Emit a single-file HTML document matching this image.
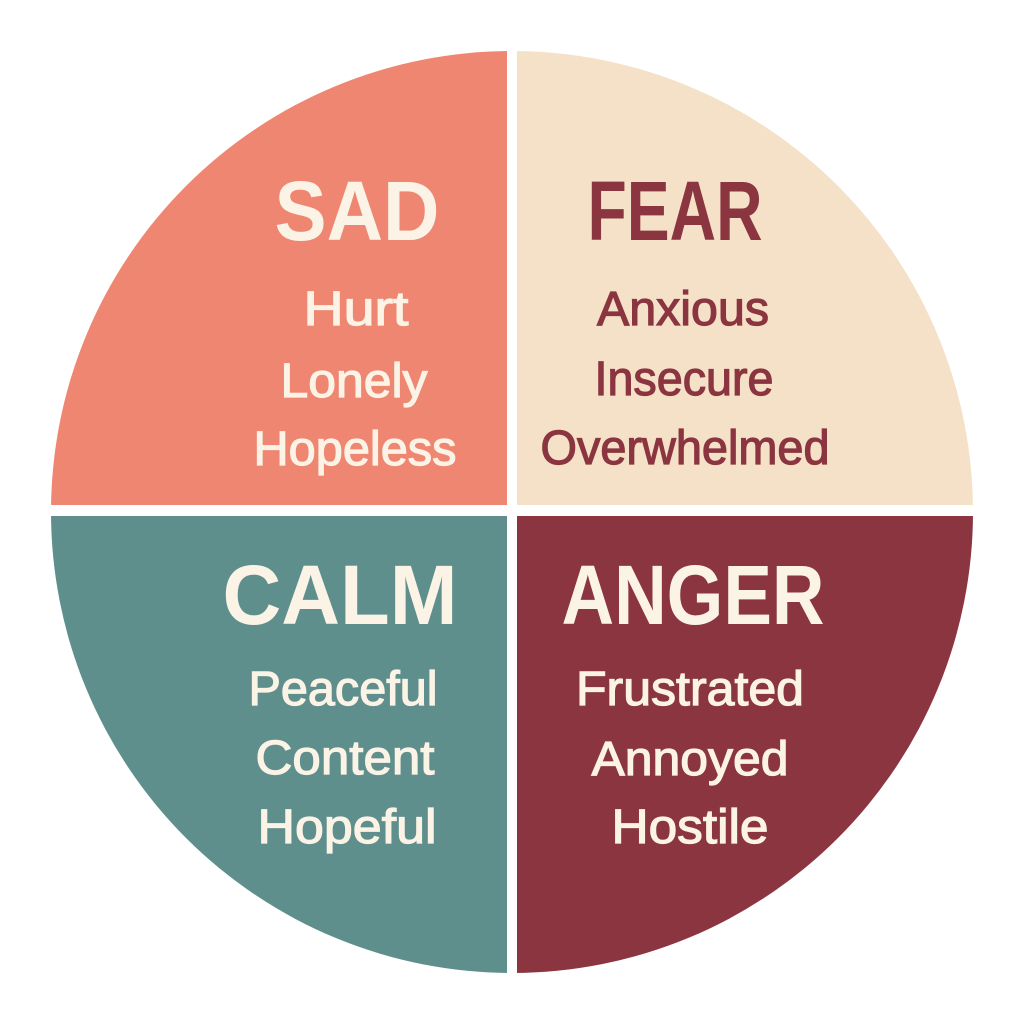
<!DOCTYPE html>
<html><head><meta charset="utf-8"><style>
html,body{margin:0;padding:0;background:#fff;}
svg{display:block;}
text{font-family:"Liberation Sans",sans-serif;text-anchor:middle;}
.t{font-weight:bold;font-size:84px;}
.w{font-size:48px;stroke-width:1.2px;}
</style></head><body>
<svg width="1024" height="1024" viewBox="0 0 1024 1024">
<defs><clipPath id="c"><circle cx="512" cy="512" r="461"/></clipPath></defs>
<g clip-path="url(#c)">
<rect x="0" y="0" width="507" height="505" fill="#EE8672"/>
<rect x="517" y="0" width="507" height="505" fill="#F5E1C8"/>
<rect x="0" y="516" width="507" height="508" fill="#5F8F8D"/>
<rect x="517" y="516" width="507" height="508" fill="#8B3540"/>
</g>
<g fill="#FBF3E6" stroke="#FBF3E6" >
<text class="t" x="357" y="240" stroke="none" textLength="165" lengthAdjust="spacingAndGlyphs">SAD</text>
<text class="w" x="356" y="325" textLength="105" lengthAdjust="spacingAndGlyphs">Hurt</text>
<text class="w" x="354" y="397" textLength="147" lengthAdjust="spacingAndGlyphs">Lonely</text>
<text class="w" x="355" y="465" textLength="203" lengthAdjust="spacingAndGlyphs">Hopeless</text>
<text class="t" x="340" y="624" stroke="none" textLength="235" lengthAdjust="spacingAndGlyphs">CALM</text>
<text class="w" x="343" y="705" textLength="189" lengthAdjust="spacingAndGlyphs">Peaceful</text>
<text class="w" x="345" y="774" textLength="179" lengthAdjust="spacingAndGlyphs">Content</text>
<text class="w" x="347" y="843" textLength="179" lengthAdjust="spacingAndGlyphs">Hopeful</text>
<text class="t" x="693" y="624" stroke="none" textLength="263" lengthAdjust="spacingAndGlyphs">ANGER</text>
<text class="w" x="690" y="705" textLength="228" lengthAdjust="spacingAndGlyphs">Frustrated</text>
<text class="w" x="690" y="775" textLength="197" lengthAdjust="spacingAndGlyphs">Annoyed</text>
<text class="w" x="690" y="843" textLength="157" lengthAdjust="spacingAndGlyphs">Hostile</text>
</g>
<g fill="#8B3540" stroke="#8B3540">
<text class="t" x="675" y="240" stroke="none" textLength="175" lengthAdjust="spacingAndGlyphs">FEAR</text>
<text class="w" x="683" y="325" textLength="172" lengthAdjust="spacingAndGlyphs">Anxious</text>
<text class="w" x="684" y="395" textLength="179" lengthAdjust="spacingAndGlyphs">Insecure</text>
<text class="w" x="685" y="464" textLength="289" lengthAdjust="spacingAndGlyphs">Overwhelmed</text>
</g>
</svg>
</body></html>
